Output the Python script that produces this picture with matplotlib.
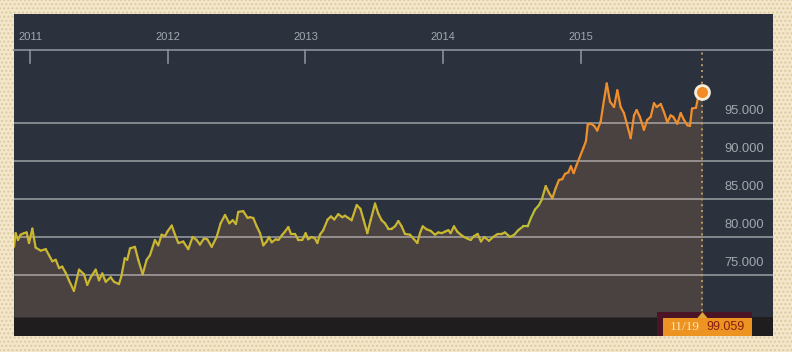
import matplotlib
matplotlib.use("Agg")

import matplotlib.pyplot as plt
import matplotlib.transforms as mtransforms
import numpy as np
from matplotlib.collections import LineCollection
from matplotlib.colors import LinearSegmentedColormap
from matplotlib.patches import Rectangle, Polygon

# ============================================================
# DATA (dates as decimal years, index value)
# ============================================================

years = [
    2010.884, 2010.896, 2010.913, 2010.932, 2010.956, 2010.976, 2010.993,
    2011.017, 2011.041, 2011.078, 2011.114, 2011.138, 2011.162, 2011.187,
    2011.211, 2011.234, 2011.259, 2011.283, 2011.319, 2011.356, 2011.392,
    2011.416, 2011.441, 2011.477, 2011.501, 2011.525, 2011.550, 2011.586,
    2011.610, 2011.646, 2011.663, 2011.688, 2011.706, 2011.726, 2011.762,
    2011.786, 2011.818, 2011.847, 2011.871, 2011.907, 2011.931, 2011.956,
    2011.980, 2011.997, 2012.029, 2012.053, 2012.077, 2012.113, 2012.149,
    2012.181, 2012.210, 2012.234, 2012.263, 2012.287, 2012.319, 2012.355,
    2012.384, 2012.416, 2012.447, 2012.472, 2012.495, 2012.512, 2012.548,
    2012.580, 2012.597, 2012.621, 2012.646, 2012.670, 2012.694, 2012.718,
    2012.735, 2012.755, 2012.784, 2012.803, 2012.832, 2012.851, 2012.875,
    2012.895, 2012.924, 2012.948, 2012.977, 2013.001, 2013.020, 2013.045,
    2013.069, 2013.086, 2013.105, 2013.129, 2013.161, 2013.185, 2013.209,
    2013.238, 2013.267, 2013.287, 2013.311, 2013.335, 2013.372, 2013.399,
    2013.421, 2013.449, 2013.473, 2013.505, 2013.528, 2013.553, 2013.577,
    2013.601, 2013.626, 2013.650, 2013.674, 2013.698, 2013.722, 2013.759,
    2013.783, 2013.812, 2013.831, 2013.851, 2013.880, 2013.909, 2013.940,
    2013.964, 2013.989, 2014.013, 2014.037, 2014.054, 2014.078, 2014.102,
    2014.127, 2014.151, 2014.175, 2014.199, 2014.223, 2014.250, 2014.274,
    2014.298, 2014.332, 2014.363, 2014.395, 2014.424, 2014.448, 2014.485,
    2014.516, 2014.545, 2014.581, 2014.613, 2014.637, 2014.666, 2014.695,
    2014.715, 2014.744, 2014.768, 2014.792, 2014.816, 2014.840, 2014.864,
    2014.884, 2014.908, 2014.927, 2014.947, 2014.969, 2014.993, 2015.017,
    2015.036, 2015.049, 2015.073, 2015.097, 2015.118, 2015.143, 2015.167,
    2015.187, 2015.211, 2015.240, 2015.264, 2015.288, 2015.312, 2015.336,
    2015.361, 2015.385, 2015.404, 2015.428, 2015.457, 2015.481, 2015.506,
    2015.530, 2015.550, 2015.579, 2015.603, 2015.627, 2015.651, 2015.670,
    2015.699, 2015.724, 2015.748, 2015.772, 2015.791, 2015.806, 2015.835,
    2015.854, 2015.882,
]

values = [
    78.7, 80.5, 79.6, 80.3, 80.5, 80.6, 79.2,
    81.1, 78.6, 78.2, 78.4, 77.6, 76.8, 77.0,
    75.9, 76.1, 75.3, 74.3, 72.9, 75.7, 75.1,
    73.7, 74.7, 75.7, 74.3, 75.2, 74.1, 74.7,
    74.1, 73.8, 74.8, 77.2, 77.0, 78.5, 78.7,
    77.0, 75.1, 77.0, 77.6, 79.6, 78.9, 80.3,
    80.1, 80.7, 81.5, 80.3, 79.2, 79.4, 78.4,
    80.0, 79.6, 79.0, 79.8, 79.7, 78.7, 80.0,
    81.8, 82.9, 81.8, 82.2, 81.7, 83.3, 83.4,
    82.5, 82.6, 82.5, 81.4, 80.5, 78.9, 79.4,
    80.0, 79.3, 79.7, 79.6, 80.3, 80.7, 81.3,
    80.4, 80.4, 79.6, 79.6, 80.5, 79.7, 80.0,
    79.8, 79.2, 80.3, 80.9, 82.3, 82.7, 82.3,
    83.0, 82.6, 82.8, 82.5, 82.2, 84.2, 83.7,
    82.3, 80.5, 82.2, 84.4, 83.1, 82.2, 81.8,
    81.1, 81.1, 81.4, 82.1, 81.4, 80.4, 80.3,
    79.8, 79.2, 80.5, 81.4, 81.0, 80.8, 80.3,
    80.6, 80.5, 80.7, 80.9, 80.5, 81.4, 80.7,
    80.3, 80.0, 79.8, 79.6, 80.1, 80.4, 79.4,
    80.0, 79.5, 80.0, 80.4, 80.4, 80.6, 80.0,
    80.3, 80.9, 81.4, 81.4, 82.5, 83.6, 84.2,
    84.9, 86.7, 85.8, 85.1, 86.4, 87.5, 87.6,
    88.3, 88.5, 89.3, 88.4, 89.5, 90.6, 91.7,
    92.6, 94.8, 94.9, 94.6, 94.0, 95.2, 98.0,
    100.2, 97.8, 97.1, 99.3, 97.1, 96.3, 94.7,
    93.0, 96.0, 96.7, 95.8, 94.1, 95.4, 95.8,
    97.6, 97.1, 97.5, 96.4, 95.1, 96.0, 95.8,
    94.9, 96.3, 95.4, 94.7, 94.6, 96.9, 97.0,
    98.7, 99.059,
]

year_ticks = [2011, 2012, 2013, 2014, 2015]
value_ticks = [75, 80, 85, 90, 95]
last_date_label = "11/19"
last_value_label = "99.059"

# ============================================================
# STYLE
# ============================================================

BEIGE = "#f3e6c9"
PANEL = "#2b323e"
STRIP = "#1f1d1e"
FILL = "#4a4240"
YELLOW = "#c9b631"
ORANGE = "#f08e2c"
TEXT_GREY = "#a3a7ae"

X_MIN, X_MAX = 2010.884, 2016.394
Y_MIN, Y_MAX = 69.47, 104.6

plt.rcParams["font.family"] = ["Liberation Sans", "DejaVu Sans"]

fig = plt.figure(figsize=(7.92, 3.52), dpi=100)
fig.patch.set_facecolor(BEIGE)

# dotted paper texture around the panel
fig.patches.append(Rectangle(
    (0, 0), 1, 1,
    transform=fig.transFigure,
    facecolor=BEIGE,
    edgecolor="#dccaa2",
    hatch="....",
    linewidth=0,
    zorder=-10
))

W, H = 792.0, 352.0


def fig_box(x0, y0, x1, y1):
    # image pixel box (top-left origin) -> figure fraction
    return (x0 / W, 1 - y1 / H, (x1 - x0) / W, (y1 - y0) / H)


px, py, pw, ph = fig_box(14, 14, 773, 336)
fig.patches.append(Rectangle(
    (px, py), pw, ph,
    transform=fig.transFigure,
    facecolor=PANEL,
    linewidth=0,
    zorder=-5
))

px, py, pw, ph = fig_box(14, 317, 773, 336)
fig.patches.append(Rectangle(
    (px, py), pw, ph,
    transform=fig.transFigure,
    facecolor=STRIP,
    linewidth=0,
    zorder=-4
))

ax = fig.add_axes(fig_box(14, 50, 773, 317))
ax.set_facecolor(PANEL)
ax.set_xlim(X_MIN, X_MAX)
ax.set_ylim(Y_MIN, Y_MAX)

for side in ["left", "right", "bottom"]:
    ax.spines[side].set_visible(False)
ax.spines["top"].set_color("#8b9099")
ax.spines["top"].set_linewidth(1.2)
ax.set_xticks([])
ax.set_yticks([])

# ============================================================
# AREA + LINE
# ============================================================

x = np.array(years)
y = np.array(values)

ax.fill_between(x, y, Y_MIN, color=FILL, linewidth=0, zorder=1)

for v in value_ticks:
    ax.axhline(v, color="white", alpha=0.45, linewidth=1.3, zorder=2)

cmap = LinearSegmentedColormap.from_list(
    "gold_orange",
    [(0.0, YELLOW), (0.70, YELLOW), (0.76, "#b8c03a"), (0.80, ORANGE), (1.0, ORANGE)]
)

points = np.column_stack([x, y]).reshape(-1, 1, 2)
segments = np.concatenate([points[:-1], points[1:]], axis=1)
mid = (x[:-1] + x[1:]) / 2
norm = plt.Normalize(x.min(), x.max())

lc = LineCollection(
    segments,
    colors=cmap(norm(mid)),
    linewidth=1.6,
    capstyle="round",
    joinstyle="round",
    zorder=4
)
ax.add_collection(lc)

# last value marker + dotted guide
ax.axvline(
    x[-1],
    color="#b49c68",
    linestyle=(0, (1, 2)),
    linewidth=1.4,
    zorder=3
)

ax.plot(
    x[-1], y[-1],
    marker="o",
    markersize=10,
    markerfacecolor="#f28a26",
    markeredgecolor="#f7ecdb",
    markeredgewidth=2,
    zorder=6,
    clip_on=False
)

# ============================================================
# AXIS LABELS
# ============================================================

top_trans = mtransforms.blended_transform_factory(ax.transData, ax.transAxes)
label_trans = mtransforms.blended_transform_factory(ax.transData, fig.transFigure)

for yr in year_ticks:
    ax.plot(
        [yr, yr], [1.0, 1.0 - 13 / 267],
        transform=top_trans,
        color="#8b9099",
        linewidth=1.2,
        clip_on=False,
        zorder=5
    )
    ax.text(
        yr, 1 - 36.5 / H,
        str(yr),
        transform=label_trans,
        ha="center",
        va="center",
        fontsize=8,
        color=TEXT_GREY
    )

right_trans = mtransforms.blended_transform_factory(ax.transAxes, ax.transData)

for v in value_ticks:
    ax.annotate(
        f"{v:.3f}",
        xy=(0.988, v),
        xycoords=right_trans,
        xytext=(0, 8.3),
        textcoords="offset points",
        ha="right",
        va="center",
        fontsize=9.3,
        color=TEXT_GREY
    )

# ============================================================
# LAST VALUE TAG
# ============================================================

fig.canvas.draw()
tag_x, _ = ax.transData.transform((x[-1], y[-1]))

fig.patches.append(Rectangle(
    (tag_x - 45, 16), 95, 24,
    transform=mtransforms.IdentityTransform(),
    facecolor="#4c1526",
    linewidth=0,
    zorder=7
))

fig.patches.append(Rectangle(
    (tag_x - 39, 16), 89, 18,
    transform=mtransforms.IdentityTransform(),
    facecolor="#ec9322",
    linewidth=0,
    zorder=8
))

fig.patches.append(Polygon(
    [(tag_x - 5, 34), (tag_x + 5, 34), (tag_x, 40)],
    closed=True,
    transform=mtransforms.IdentityTransform(),
    facecolor="#dca634",
    linewidth=0,
    zorder=8
))

fig.text(
    (tag_x - 18) / W, 25.5 / H,
    last_date_label,
    ha="center",
    va="center",
    fontsize=9.5,
    color="#fde8c0",
    family=["Liberation Serif", "DejaVu Serif"],
    zorder=9
)

fig.text(
    (tag_x + 23) / W, 25.5 / H,
    last_value_label,
    ha="center",
    va="center",
    fontsize=9,
    color="#8a1c12",
    zorder=9
)

fig.savefig("out.png", dpi=100, facecolor=fig.get_facecolor())
